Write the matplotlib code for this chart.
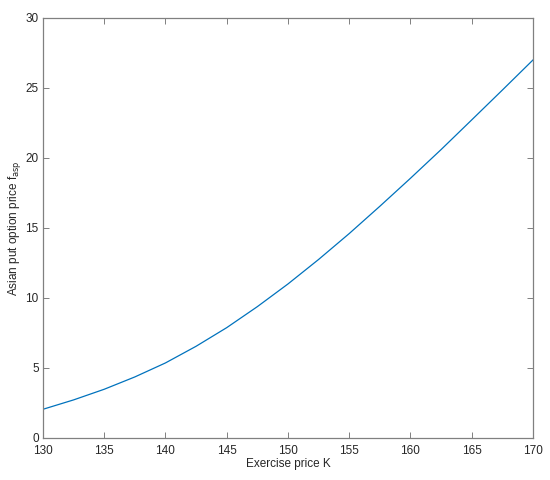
import matplotlib
matplotlib.use("Agg")
from matplotlib import pyplot as plt

# exercise price K vs Asian put option price
strike = [130, 132.5, 135, 137.5, 140, 142.5, 145, 147.5, 150,
          152.5, 155, 157.5, 160, 162.5, 165, 167.5, 170]
put_price = [2.05, 2.72, 3.48, 4.36, 5.36, 6.55, 7.88, 9.38, 11.0,
             12.75, 14.6, 16.55, 18.55, 20.6, 22.72, 24.85, 27.0]

plt.rcParams["font.family"] = ["Liberation Sans", "DejaVu Sans"]
plt.rcParams["mathtext.default"] = "regular"

fig = plt.figure(figsize=(5.5, 4.8), dpi=100)
ax = fig.add_axes([0.078, 0.0875, 0.891, 0.875])
ax.plot(strike, put_price, color="#0072BD", linewidth=0.9)

ax.set_xlim(130, 170)
ax.set_ylim(0, 30)
ax.set_xticks(range(130, 171, 5))
ax.set_yticks(range(0, 31, 5))
ax.tick_params(direction="in", top=True, right=True, length=4, width=0.7,
               colors="0.5", labelcolor="0.15", labelsize=8.5)
ax.tick_params(axis="x", pad=5)
ax.tick_params(axis="y", pad=3)
for s in ax.spines.values():
    s.set_color("0.5")
    s.set_linewidth(0.9)

ax.set_xlabel("Exercise price K", fontsize=8.5, color="0.15", labelpad=1)
ax.set_ylabel("Asian put option price f$_{\\mathsf{asp}}$", fontsize=8.5, color="0.15", labelpad=1.5)

fig.savefig("out.png", dpi=100)
